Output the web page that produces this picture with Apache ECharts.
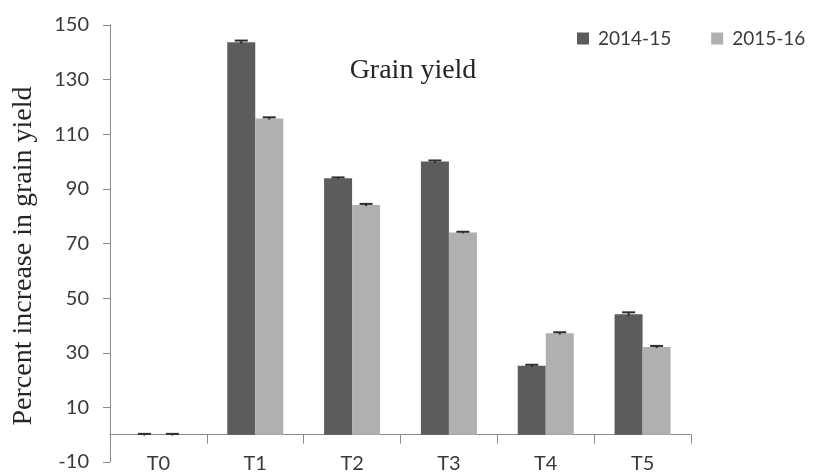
<!DOCTYPE html>
<html>
<head>
<meta charset="utf-8">
<script src="https://cdn.jsdelivr.net/npm/echarts@6/dist/echarts.min.js"></script>
<style>
  html, body { margin: 0; padding: 0; background: #ffffff; }
  #chart { width: 815px; height: 472px; }
</style>
</head>
<body>
<div id="chart"></div>
<script>
// Treatments and yearly percent increase in grain yield
const treatments = ['T0', 'T1', 'T2', 'T3', 'T4', 'T5'];
const yield2014 = [0, 143.7, 93.9, 100.0, 25.2, 44.1];
const yield2015 = [0, 115.8, 84.1, 74.0, 37.1, 32.1];
// Standard errors for each bar
const err2014 = [0.3, 0.6, 0.3, 0.4, 0.4, 0.7];
const err2015 = [0.3, 0.4, 0.4, 0.3, 0.4, 0.4];
const yTicks = [-10, 10, 30, 50, 70, 90, 110, 130, 150];

const darkGrey = '#5c5c5c';
const lightGrey = '#b0b0b0';
const axisGrey = '#8a8a8a';
const BAR_W = 28;
const sansFont = 'Lato, "Open Sans", sans-serif';
const serifFont = '"Liberation Serif", "DejaVu Serif", serif';

const chart = echarts.init(document.getElementById('chart'), null, { renderer: 'canvas' });

// Draws a vertical whisker with a top cap, shifted onto its bar
function errorBar(offset) {
  return function (params, api) {
    const idx = api.value(0);
    const val = api.value(1);
    const e = api.value(2);
    const top = api.coord([idx, val + e]);
    const bot = api.coord([idx, val - e]);
    const x = top[0] + offset;
    const style = { stroke: '#2e2e2e', lineWidth: 2 };
    return {
      type: 'group',
      children: [
        { type: 'line', shape: { x1: x, y1: bot[1], x2: x, y2: top[1] }, style: style },
        { type: 'line', shape: { x1: x - 6.5, y1: top[1], x2: x + 6.5, y2: top[1] }, style: style }
      ]
    };
  };
}

chart.setOption({
  animation: false,
  backgroundColor: '#ffffff',
  grid: { left: 110, right: 124, top: 25, bottom: 10, containLabel: false, outerBoundsMode: 'none' },
  legend: {
    left: 572,
    top: 24,
    icon: 'rect',
    itemWidth: 12,
    itemHeight: 12,
    itemGap: 40,
    data: ['2014-15', '2015-16'],
    textStyle: { fontFamily: sansFont, fontSize: 19, color: '#3a3a3a', padding: [0, 0, 0, 4] }
  },
  graphic: [
    {
      type: 'text',
      x: 413,
      y: 71,
      style: {
        text: 'Grain yield',
        font: '28px ' + serifFont,
        fill: '#262626',
        align: 'center',
        verticalAlign: 'middle'
      }
    },
    {
      type: 'text',
      x: 24,
      y: 256,
      rotation: Math.PI / 2,
      style: {
        text: 'Percent increase in grain yield',
        font: '28px ' + serifFont,
        fill: '#262626',
        align: 'center',
        verticalAlign: 'middle'
      }
    }
  ],
  xAxis: [
    {
      // zero line with category ticks
      type: 'category',
      data: treatments,
      axisLine: { onZero: true, lineStyle: { color: axisGrey, width: 1 } },
      axisTick: { show: true, length: 9, lineStyle: { color: axisGrey } },
      axisLabel: { show: false },
      splitLine: { show: false }
    },
    {
      // treatment names along the bottom edge
      type: 'category',
      data: treatments,
      position: 'bottom',
      axisLine: { show: false, onZero: false },
      axisTick: { show: false },
      axisLabel: { show: true, margin: -8, fontFamily: sansFont, fontSize: 20, color: '#3a3a3a' },
      splitLine: { show: false }
    }
  ],
  yAxis: {
    type: 'value',
    min: -10,
    max: 150,
    axisLine: { show: true, lineStyle: { color: axisGrey, width: 1 } },
    axisTick: { show: true, length: 7, customValues: yTicks, lineStyle: { color: axisGrey } },
    axisLabel: { margin: 21, customValues: yTicks, fontFamily: sansFont, fontSize: 20, color: '#3a3a3a' },
    splitLine: { show: false }
  },
  series: [
    {
      name: '2014-15',
      type: 'bar',
      data: yield2014,
      barWidth: BAR_W,
      barGap: '0%',
      itemStyle: { color: darkGrey }
    },
    {
      name: '2015-16',
      type: 'bar',
      data: yield2015,
      barWidth: BAR_W,
      barGap: '0%',
      itemStyle: { color: lightGrey }
    },
    {
      name: 'err2014',
      type: 'custom',
      renderItem: errorBar(-BAR_W / 2),
      data: treatments.map((t, i) => [i, yield2014[i], err2014[i]]),
      z: 5,
      silent: true
    },
    {
      name: 'err2015',
      type: 'custom',
      renderItem: errorBar(BAR_W / 2),
      data: treatments.map((t, i) => [i, yield2015[i], err2015[i]]),
      z: 5,
      silent: true
    }
  ]
});
</script>
</body>
</html>
